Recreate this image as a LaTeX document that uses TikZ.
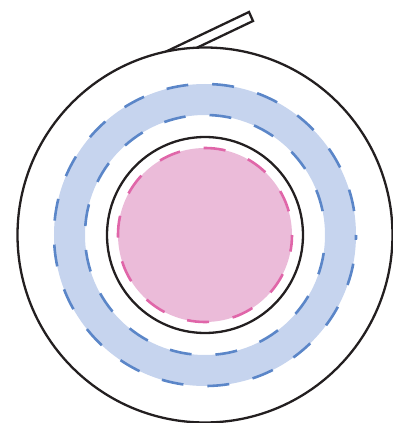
\documentclass[tikz,border=0pt]{standalone}
\definecolor{ringblue}{HTML}{C6D4EE}
\definecolor{dashblue}{HTML}{5B86C8}
\definecolor{corepink}{HTML}{EBBBD9}
\definecolor{dashpink}{HTML}{E066A9}
\definecolor{rimblack}{HTML}{231F20}

\begin{document}
\begin{tikzpicture}[x=1pt,y=1pt]
\useasboundingbox (-205,-188) rectangle (188,235);
\tikzset{rim/.style={draw=rimblack, line width=2.3pt},
  ringdash/.style={line width=2.6pt, dash pattern=on 22pt off 24pt, dash phase=22pt}}
% blue ring
\fill[ringblue, even odd rule] (0,0) circle (151) (0,0) circle (120);
\draw[ringdash, dashblue] (0,0) circle (151);
\draw[ringdash, dashblue] (0,0) circle (120);
% pink core
\fill[corepink] (0,0) circle (87);
\draw[ringdash, dashpink] (0,0) circle (87);
\draw[rim] (0,0) circle (98);
% outer rim with tab
\draw[rim] (0,0) circle (187.5);
\coordinate (tabtop) at (44,223);
\coordinate (tabbot) at (48,214);
\coordinate (tabtopin) at (-64.6,171.2);
\coordinate (tabbotin) at (-60.6,162.2);
\begin{scope}[even odd rule]
\clip (-205,-188) rectangle (188,235) (0,0) circle (187.5);
\draw[rim, line join=miter] (tabtopin) -- (tabtop) -- (tabbot) -- (tabbotin);
\end{scope}
\end{tikzpicture}
\end{document}
